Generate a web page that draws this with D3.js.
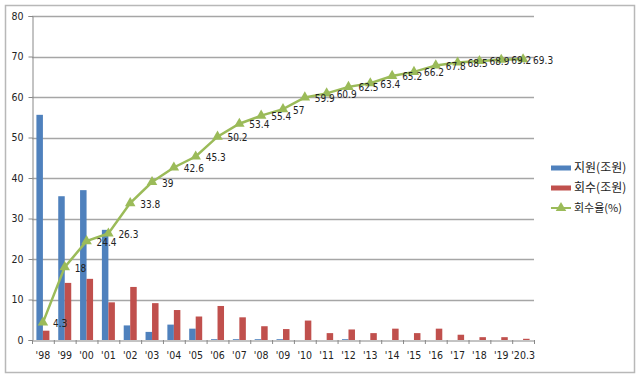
<!DOCTYPE html>
<html>
<head>
<meta charset="utf-8">
<script src="https://cdn.jsdelivr.net/npm/d3@7"></script>
<style>
  body { margin: 0; background: #fff; }
  svg text { font-family: "DejaVu Sans Condensed", "DejaVu Sans", sans-serif; fill: #222; }
  .legend text { font-family: "Noto Sans CJK KR", sans-serif; }
</style>
</head>
<body>
<div id="chart"></div>
<script>
const years = ["'98", "'99", "'00", "'01", "'02", "'03", "'04", "'05", "'06", "'07", "'08", "'09",
  "'10", "'11", "'12", "'13", "'14", "'15", "'16", "'17", "'18", "'19", "'20.3"];
// 지원(조원)
const support = [55.6, 35.5, 37.0, 27.2, 3.6, 2.0, 3.8, 2.8, 0.2, 0.2, 0.2, 0.2,
  0, 0, 0.2, 0, 0, 0, 0, 0, 0, 0, 0];
// 회수(조원)
const recovery = [2.3, 14.1, 15.1, 9.3, 13.1, 9.1, 7.4, 5.8, 8.4, 5.6, 3.4, 2.7,
  4.8, 1.7, 2.6, 1.7, 2.8, 1.7, 2.8, 1.3, 0.7, 0.7, 0.3];
// 회수율(%)
const rate = [4.3, 18, 24.4, 26.3, 33.8, 39, 42.6, 45.3, 50.2, 53.4, 55.4, 57,
  59.9, 60.9, 62.5, 63.4, 65.2, 66.2, 67.8, 68.5, 68.9, 69.2, 69.3];
const yTicks = [0, 10, 20, 30, 40, 50, 60, 70, 80];
const seriesNames = ["지원(조원)", "회수(조원)", "회수율(%)"];

const blue = "#4f81bd", red = "#c0504d", green = "#9bbb59";
const W = 639, H = 377;
const margin = { top: 16, right: 105, bottom: 37, left: 32 };

const svg = d3.select("#chart").append("svg").attr("width", W).attr("height", H);

// outer frame
svg.append("rect")
  .attr("x", 5.5).attr("y", 5.5).attr("width", 629).attr("height", 367)
  .attr("fill", "#fff").attr("stroke", "#b8b8b8").attr("stroke-width", 1.5);

const x = d3.scaleBand().domain(years).range([margin.left, W - margin.right]);
const y = d3.scaleLinear().domain([0, 80]).range([H - margin.bottom, margin.top]);

// gridlines
svg.append("g").selectAll("line").data(yTicks.filter(d => d > 0)).join("line")
  .attr("x1", margin.left).attr("x2", W - margin.right)
  .attr("y1", d => Math.round(y(d)) + 0.5).attr("y2", d => Math.round(y(d)) + 0.5)
  .attr("stroke", "#a6a6a6").attr("stroke-width", 1.3);

// y axis
const yAxis = svg.append("g")
  .attr("transform", `translate(${margin.left + 0.5},0)`)
  .call(d3.axisLeft(y).tickValues(yTicks).tickSize(4).tickPadding(5));
yAxis.select(".domain").attr("stroke", "#888");
yAxis.selectAll(".tick line").attr("stroke", "#888");
yAxis.selectAll("text").attr("font-size", 10.5).attr("fill", "#222");

// bars
const bw = 6.5;
svg.append("g").selectAll("rect").data(support).join("rect")
  .attr("x", (d, i) => x(years[i]) + x.bandwidth() / 2 - bw)
  .attr("width", bw)
  .attr("y", d => y(d))
  .attr("height", d => y(0) - y(d))
  .attr("fill", blue);
svg.append("g").selectAll("rect").data(recovery).join("rect")
  .attr("x", (d, i) => x(years[i]) + x.bandwidth() / 2)
  .attr("width", bw)
  .attr("y", d => y(d))
  .attr("height", d => y(0) - y(d))
  .attr("fill", red);

// x axis
const xAxis = svg.append("g")
  .attr("transform", `translate(0,${Math.round(y(0)) + 0.5})`)
  .call(d3.axisBottom(x).tickSize(0).tickPadding(11));
xAxis.select(".domain").attr("stroke", "#888");
xAxis.selectAll("text").attr("font-size", 10.5).attr("fill", "#222");
// category separator ticks
svg.append("g").selectAll("line").data(years.concat(["end"])).join("line")
  .attr("x1", (d, i) => margin.left + i * x.bandwidth() + 0.5)
  .attr("x2", (d, i) => margin.left + i * x.bandwidth() + 0.5)
  .attr("y1", y(0)).attr("y2", y(0) + 4)
  .attr("stroke", "#888");

// rate line
const cx = (d, i) => x(years[i]) + x.bandwidth() / 2;
const line = d3.line().x(cx).y(d => y(d));
svg.append("path").datum(rate)
  .attr("d", line).attr("fill", "none")
  .attr("stroke", green).attr("stroke-width", 2.5);

const tri = d3.symbol().type(d3.symbolTriangle).size(48);
svg.append("g").selectAll("path").data(rate).join("path")
  .attr("d", tri)
  .attr("transform", (d, i) => `translate(${cx(d, i)},${y(d)})`)
  .attr("fill", green);

svg.append("g").selectAll("text").data(rate).join("text")
  .attr("x", (d, i) => cx(d, i) + 10)
  .attr("y", d => y(d))
  .attr("dy", "0.45em")
  .attr("font-size", 10)
  .text(d => d);

// legend
const legend = svg.append("g").attr("class", "legend");
const ly = [168, 188, 208];
seriesNames.forEach((name, i) => {
  const g = legend.append("g").attr("transform", `translate(551,${ly[i]})`);
  if (i < 2) {
    g.append("rect").attr("x", 0).attr("y", -2.5).attr("width", 20).attr("height", 5)
      .attr("fill", i === 0 ? blue : red);
  } else {
    g.append("line").attr("x1", 0).attr("x2", 20).attr("y1", 0).attr("y2", 0)
      .attr("stroke", green).attr("stroke-width", 2);
    g.append("path").attr("d", tri).attr("transform", "translate(10,0)").attr("fill", green);
  }
  g.append("text").attr("x", 23).attr("y", 0).attr("dy", "0.35em")
    .attr("font-size", i === 2 ? 11 : 12).text(name);
});
</script>
</body>
</html>
